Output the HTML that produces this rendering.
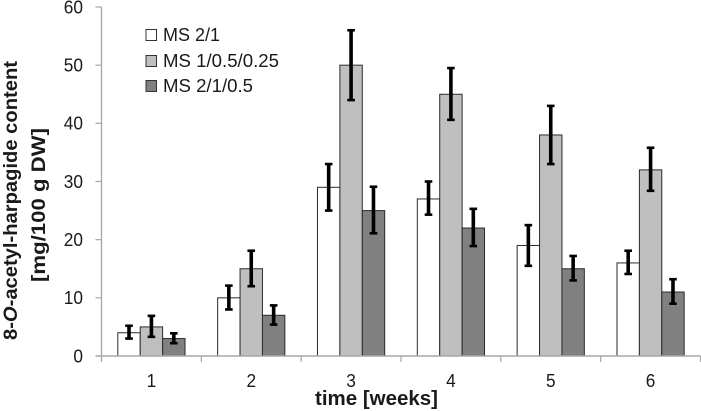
<!DOCTYPE html>
<html>
<head>
<meta charset="utf-8">
<title>8-O-acetyl-harpagide content over time</title>
<style>
html,body{margin:0;padding:0;background:#fff;width:701px;height:411px;overflow:hidden}
svg{display:block}
text{font-family:"Liberation Sans",sans-serif;fill:#1a1a1a}
</style>
</head>
<body>
<svg id="chart" width="701" height="411" viewBox="0 0 701 411" xmlns="http://www.w3.org/2000/svg">
  <g id="bars"></g>
  <g id="errors"></g>
  <g id="axes"></g>
  <text transform="translate(17,340) rotate(-90)" font-size="19.5" font-weight="bold" textLength="279" lengthAdjust="spacingAndGlyphs">8-<tspan font-style="italic">O</tspan>-acetyl-harpagide content</text>
  <text transform="translate(45,282) rotate(-90)" font-size="19.5" font-weight="bold" textLength="154" lengthAdjust="spacingAndGlyphs">[mg/100 g DW]</text>
  <text x="315" y="405" font-size="20" font-weight="bold" textLength="123" lengthAdjust="spacingAndGlyphs">time [weeks]</text>
  <g id="legend"></g>
</svg>
<script>
var categories = ['1', '2', '3', '4', '5', '6'];
var yTicks = [0, 10, 20, 30, 40, 50, 60];
var seriesNames = ['MS 2/1', 'MS 1/0.5/0.25', 'MS 2/1/0.5'];
var seriesA = [4, 10, 29, 27, 19, 16];
var seriesB = [5, 15, 50, 45, 38, 32];
var seriesC = [3, 7, 25, 22, 15, 11];
var lowA = [3, 8, 25, 24.3, 15.5, 14.1];
var highA = [5.2, 12.1, 33, 30, 22.5, 18.1];
var lowB = [3.3, 12, 44, 40.6, 33, 28.4];
var highB = [6.9, 18.1, 56, 49.5, 43, 35.8];
var lowC = [2.2, 5.4, 21.1, 18.9, 13, 9];
var highC = [3.9, 8.7, 29.1, 25.3, 17.2, 13.2];

var NS = 'http://www.w3.org/2000/svg';
var fills = ['#ffffff', '#bfbfbf', '#808080'];
var values = [seriesA, seriesB, seriesC];
var lows = [lowA, lowB, lowC];
var highs = [highA, highB, highC];
var plotLeft = 101.5, plotRight = 700.5, plotBottom = 356, plotTop = 7;
var yMax = 60;

function yScale(v) { return plotBottom - (v / yMax) * (plotBottom - plotTop); }
function catWidth() { return (plotRight - plotLeft) / categories.length; }
function xCenter(i) { return plotLeft + catWidth() * (i + 0.5); }
function barX(i, s) { return xCenter(i) - 33.6 + s * 22.4; }
function make(tag, attrs, parent, text) {
  var el = document.createElementNS(NS, tag);
  for (var k in attrs) el.setAttribute(k, attrs[k]);
  if (text !== undefined) el.textContent = text;
  parent.appendChild(el);
  return el;
}

var barsG = document.getElementById('bars');
var errG = document.getElementById('errors');
var axesG = document.getElementById('axes');
var legendG = document.getElementById('legend');

values.forEach(function (series, s) {
  series.forEach(function (v, i) {
    var r = make('rect', { x: barX(i, s), y: yScale(v), width: 22.4, height: plotBottom - yScale(v), fill: fills[s], stroke: '#2b2b2b', 'stroke-width': 1 }, barsG);
    
    
  });
});

values.forEach(function (series, s) {
  series.forEach(function (v, i) {
    var cx = barX(i, s) + 11.2;
    var top = yScale(highs[s][i]), bot = yScale(lows[s][i]);
    var g = make('g', { stroke: '#000', fill: 'none' }, errG);
    
    
    make('line', { x1: cx, x2: cx, y1: top, y2: bot, 'stroke-width': 3.6 }, g);
    make('line', { x1: cx - 3.8, x2: cx + 3.8, y1: top, y2: top, 'stroke-width': 2.6 }, g);
    make('line', { x1: cx - 3.8, x2: cx + 3.8, y1: bot, y2: bot, 'stroke-width': 2.6 }, g);
  });
});

var yLine = make('line', { x1: plotLeft, x2: plotLeft, y1: plotTop, y2: plotBottom + 6, stroke: '#a6a6a6', 'stroke-width': 1.3 }, axesG);


var xLine = make('line', { x1: plotLeft - 6, x2: plotRight, y1: plotBottom, y2: plotBottom, stroke: '#a6a6a6', 'stroke-width': 1.5 }, axesG);



yTicks.forEach(function (t) {
  var y = yScale(t);
  if (t > 0) {
    var tick = make('line', { x1: plotLeft - 6, x2: plotLeft, y1: y, y2: y, stroke: '#a6a6a6', 'stroke-width': 1.2 }, axesG);
    
    
  }
  var label = make('text', { x: 83, y: y + 6.3, 'font-size': 18, 'text-anchor': 'end', textLength: String(t).length * 9.6, lengthAdjust: 'spacingAndGlyphs' }, axesG, String(t));
  
  
});

categories.forEach(function (c, i) {
  var x = plotLeft + catWidth() * (i + 1);
  var tick = make('line', { x1: x, x2: x, y1: plotBottom, y2: plotBottom + 6, stroke: '#a6a6a6', 'stroke-width': 1.2 }, axesG);
  
  
  var label = make('text', { x: xCenter(i), y: 387, 'font-size': 18, 'text-anchor': 'middle', textLength: 9.6, lengthAdjust: 'spacingAndGlyphs' }, axesG, c);
  
  
});

var legendBase = [41, 67, 92];
var legendLen = [57, 116, 90];
seriesNames.forEach(function (name, s) {
  var g = make('g', {}, legendG);
  
  
  make('rect', { x: 146, y: legendBase[s] - 11.5, width: 10.5, height: 11, fill: fills[s], stroke: '#333', 'stroke-width': 1 }, g);
  make('text', { x: 163, y: legendBase[s], 'font-size': 18, textLength: legendLen[s], lengthAdjust: 'spacingAndGlyphs' }, g, name);
});
</script>
</body>
</html>
